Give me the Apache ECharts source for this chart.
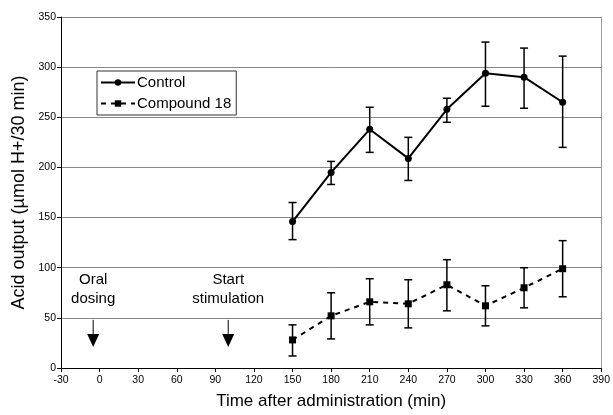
<!DOCTYPE html>
<html>
<head>
<meta charset="utf-8">
<script src="https://cdn.jsdelivr.net/npm/echarts@6/dist/echarts.min.js"></script>
<style>
  html, body { margin: 0; padding: 0; background: #fff; }
  #chart { width: 613px; height: 415px; }
</style>
</head>
<body>
<div id="chart"></div>
<script>
// time after administration (min)
var times = [150, 180, 210, 240, 270, 300, 330, 360];

// acid output, control group
var controlMean = [146, 195, 238, 209, 258, 294, 290, 265];
var controlLow = [128, 183, 215, 187, 245, 261, 259, 220];
var controlHigh = [165, 206, 260, 230, 269, 325, 319, 311];

// acid output, compound 18 group
var cpdMean = [28, 52, 66, 64, 83, 62, 80, 99];
var cpdLow = [12, 29, 43, 40, 57, 42, 60, 71];
var cpdHigh = [43, 75, 89, 88, 108, 82, 100, 127];

// event markers on the time axis
var eventTimes = [-5, 100];
var eventLabels = ["Oral\ndosing", "Start\nstimulation"];

var FONT = "Liberation Sans, Arial, sans-serif";

function pairs(xs, ys) {
  return xs.map(function (x, i) { return [x, ys[i]]; });
}

function errRows(low, high) {
  return times.map(function (t, i) { return [t, low[i], high[i]]; });
}

function renderErr(params, api) {
  var lo = api.coord([api.value(0), api.value(1)]);
  var hi = api.coord([api.value(0), api.value(2)]);
  var w = 4;
  var st = { stroke: "#000", lineWidth: 1.5 };
  return {
    type: "group",
    children: [
      { type: "line", shape: { x1: lo[0], y1: lo[1], x2: hi[0], y2: hi[1] }, style: st },
      { type: "line", shape: { x1: lo[0] - w, y1: lo[1], x2: lo[0] + w, y2: lo[1] }, style: st },
      { type: "line", shape: { x1: hi[0] - w, y1: hi[1], x2: hi[0] + w, y2: hi[1] }, style: st }
    ]
  };
}

function renderEvent(params, api) {
  var x = api.value(0);
  var top = api.coord([x, 48]);
  var base = api.coord([x, 34]);
  var tip = api.coord([x, 21]);
  var mid = api.coord([x, 78]);
  return {
    type: "group",
    children: [
      { type: "line", shape: { x1: top[0], y1: top[1], x2: base[0], y2: base[1] },
        style: { stroke: "#000", lineWidth: 1 } },
      { type: "polygon", shape: { points: [[base[0] - 6, base[1]], [base[0] + 6, base[1]], [tip[0], tip[1]]] },
        style: { fill: "#000" } },
      { type: "text", x: mid[0], y: mid[1],
        style: { text: eventLabels[params.dataIndex], fill: "#000", font: "15px " + FONT,
          align: "center", verticalAlign: "middle", lineHeight: 19 } }
    ]
  };
}

var chart = echarts.init(document.getElementById("chart"));
chart.setOption({
  animation: false,
  backgroundColor: "#fff",
  textStyle: { fontFamily: FONT },
  grid: { left: 61, right: 7, top: 17, bottom: 43 },
  legend: {
    left: 97,
    top: 71,
    orient: "vertical",
    data: ["Control", "Compound 18"],
    itemWidth: 34,
    itemHeight: 8,
    itemGap: 6,
    padding: [4, 5, 4, 3],
    borderColor: "#333",
    borderWidth: 1,
    textStyle: { color: "#000", fontSize: 15, fontFamily: FONT, padding: [0, 0, 0, -3] }
  },
  xAxis: {
    type: "value",
    min: -30,
    max: 390,
    interval: 30,
    name: "Time after administration (min)",
    nameLocation: "middle",
    nameGap: 25,
    nameTextStyle: { color: "#000", fontSize: 17, fontFamily: FONT },
    axisLine: { onZero: false, lineStyle: { color: "#000", width: 1 } },
    axisTick: { length: 4, lineStyle: { color: "#000" } },
    axisLabel: { color: "#000", fontSize: 10.5, margin: 7 },
    splitLine: { show: false }
  },
  yAxis: [{
    type: "value",
    min: 0,
    max: 350,
    interval: 50,
    name: "Acid output (\u00b5mol H+/30 min)",
    nameLocation: "middle",
    nameGap: 32,
    nameTextStyle: { color: "#000", fontSize: 18, fontFamily: FONT },
    axisLine: { show: true, onZero: false, lineStyle: { color: "#000", width: 1 } },
    axisTick: { show: true, length: 4, lineStyle: { color: "#000" } },
    axisLabel: { color: "#000", fontSize: 10.5, margin: 5 },
    splitLine: { lineStyle: { color: "#888", width: 1 } }
  }, {
    type: "value",
    min: 0,
    max: 350,
    position: "right",
    axisLine: { show: true, onZero: false, lineStyle: { color: "#999", width: 1 } },
    axisTick: { show: false },
    axisLabel: { show: false },
    splitLine: { show: false }
  }],
  series: [
    {
      name: "Control",
      type: "line",
      data: pairs(times, controlMean),
      symbol: "circle",
      symbolSize: 7,
      lineStyle: { color: "#000", width: 2 },
      itemStyle: { color: "#000" },
      z: 3
    },
    {
      name: "Compound 18",
      type: "line",
      data: pairs(times, cpdMean),
      symbol: "rect",
      symbolSize: 7,
      lineStyle: { color: "#000", width: 2, type: [5, 5] },
      itemStyle: { color: "#000" },
      z: 3
    },
    {
      type: "custom",
      renderItem: renderErr,
      data: errRows(controlLow, controlHigh),
      z: 4
    },
    {
      type: "custom",
      renderItem: renderErr,
      data: errRows(cpdLow, cpdHigh),
      z: 4
    },
    {
      type: "custom",
      renderItem: renderEvent,
      data: eventTimes.map(function (t) { return [t]; }),
      z: 4
    }
  ]
});
</script>
</body>
</html>
